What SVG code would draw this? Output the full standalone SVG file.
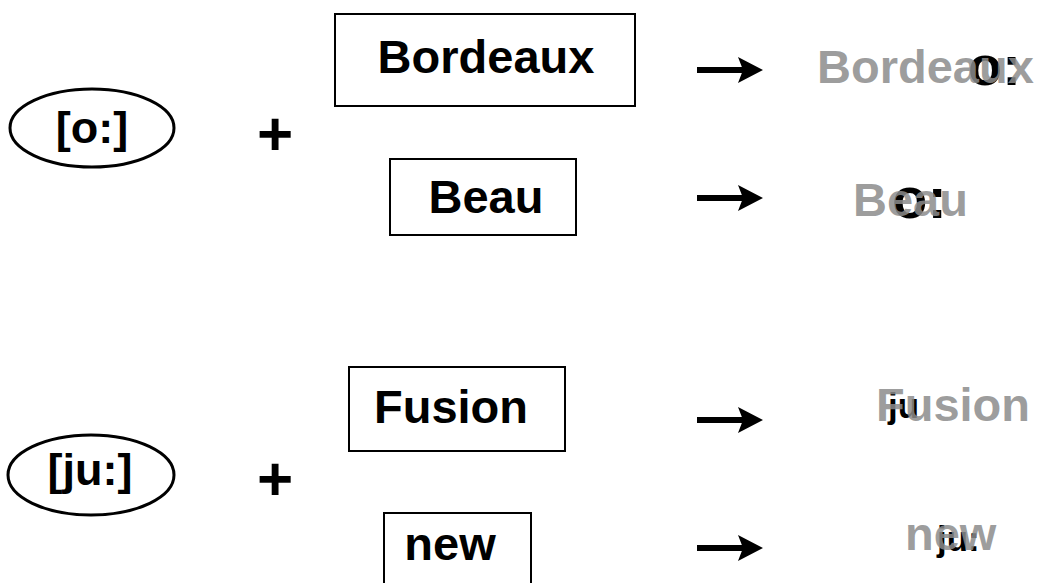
<svg xmlns="http://www.w3.org/2000/svg" width="1040" height="583" viewBox="0 0 1040 583">
<style>
.t{font-family:"Liberation Sans",Arial,sans-serif;font-weight:bold;fill:#000}
.box{fill:#fff;stroke:#000;stroke-width:2}
.ell{fill:#fff;stroke:#000;stroke-width:3}
.g{font-family:"Liberation Sans",Arial,sans-serif;font-weight:bold;font-size:47px;fill:#8c8c8c;fill-opacity:0.85}
.ph{font-family:"Liberation Sans",Arial,sans-serif;font-weight:bold;fill:#000}
.arr{stroke:#000;stroke-width:6;fill:none}
</style>
<defs>
<marker id="ah" markerUnits="userSpaceOnUse" markerWidth="26" markerHeight="26" viewBox="0 0 25 26" refX="7" refY="13" orient="auto">
<path d="M0,0 L25,13 L0,26 L5,13 z" fill="#000"/>
</marker>
</defs>
<rect width="1040" height="583" fill="#fff"/>
<g id="phon-o">
<ellipse class="ell" cx="92" cy="128" rx="82" ry="39"/>
<text class="t" x="92" y="143" font-size="45" text-anchor="middle">[o:]</text>
</g>
<g id="plus-1"><text class="t" x="275" y="155" font-size="62" text-anchor="middle">+</text></g>
<g id="bordeaux">
<rect class="box" x="335" y="14" width="300" height="92"/>
<text class="t" x="486" y="73" font-size="47" text-anchor="middle">Bordeaux</text>
</g>
<g id="beau">
<rect class="box" x="390" y="159" width="186" height="76"/>
<text class="t" x="486" y="213" font-size="47" text-anchor="middle">Beau</text>
</g>
<g id="phon-ju">
<ellipse class="ell" cx="91" cy="475" rx="83" ry="40"/>
<text class="t" x="90" y="485" font-size="45" text-anchor="middle">[ju:]</text>
</g>
<g id="plus-2"><text class="t" x="275" y="500" font-size="62" text-anchor="middle">+</text></g>
<g id="fusion">
<rect class="box" x="349" y="367" width="216" height="84"/>
<text class="t" x="451" y="423" font-size="47" text-anchor="middle">Fusion</text>
</g>
<g id="new">
<rect class="box" x="384" y="513" width="147" height="80"/>
<text class="t" x="450" y="560" font-size="47" text-anchor="middle">new</text>
</g>
<g id="connectors">
<line class="arr" x1="697" y1="70" x2="745" y2="70" marker-end="url(#ah)"/>
<line class="arr" x1="697" y1="198" x2="745" y2="198" marker-end="url(#ah)"/>
<line class="arr" x1="697" y1="420" x2="745" y2="420" marker-end="url(#ah)"/>
<line class="arr" x1="697" y1="548" x2="745" y2="548" marker-end="url(#ah)"/>
</g>
<g id="result-bordeaux">
<text class="ph" x="968" y="85" font-size="56">o:</text>
<text class="g" x="817" y="83">Bordeaux</text>
</g>
<g id="result-beau">
<text class="ph" x="892" y="218" font-size="58">o:</text>
<text class="g" x="853" y="216">Beau</text>
</g>
<g id="result-fusion">
<text class="ph" x="888" y="418" font-size="35">ju</text>
<text class="g" x="876" y="421">Fusion</text>
</g>
<g id="result-new">
<text class="ph" x="937" y="551" font-size="35">ju:</text>
<text class="g" x="905" y="550">new</text>
</g>
</svg>
